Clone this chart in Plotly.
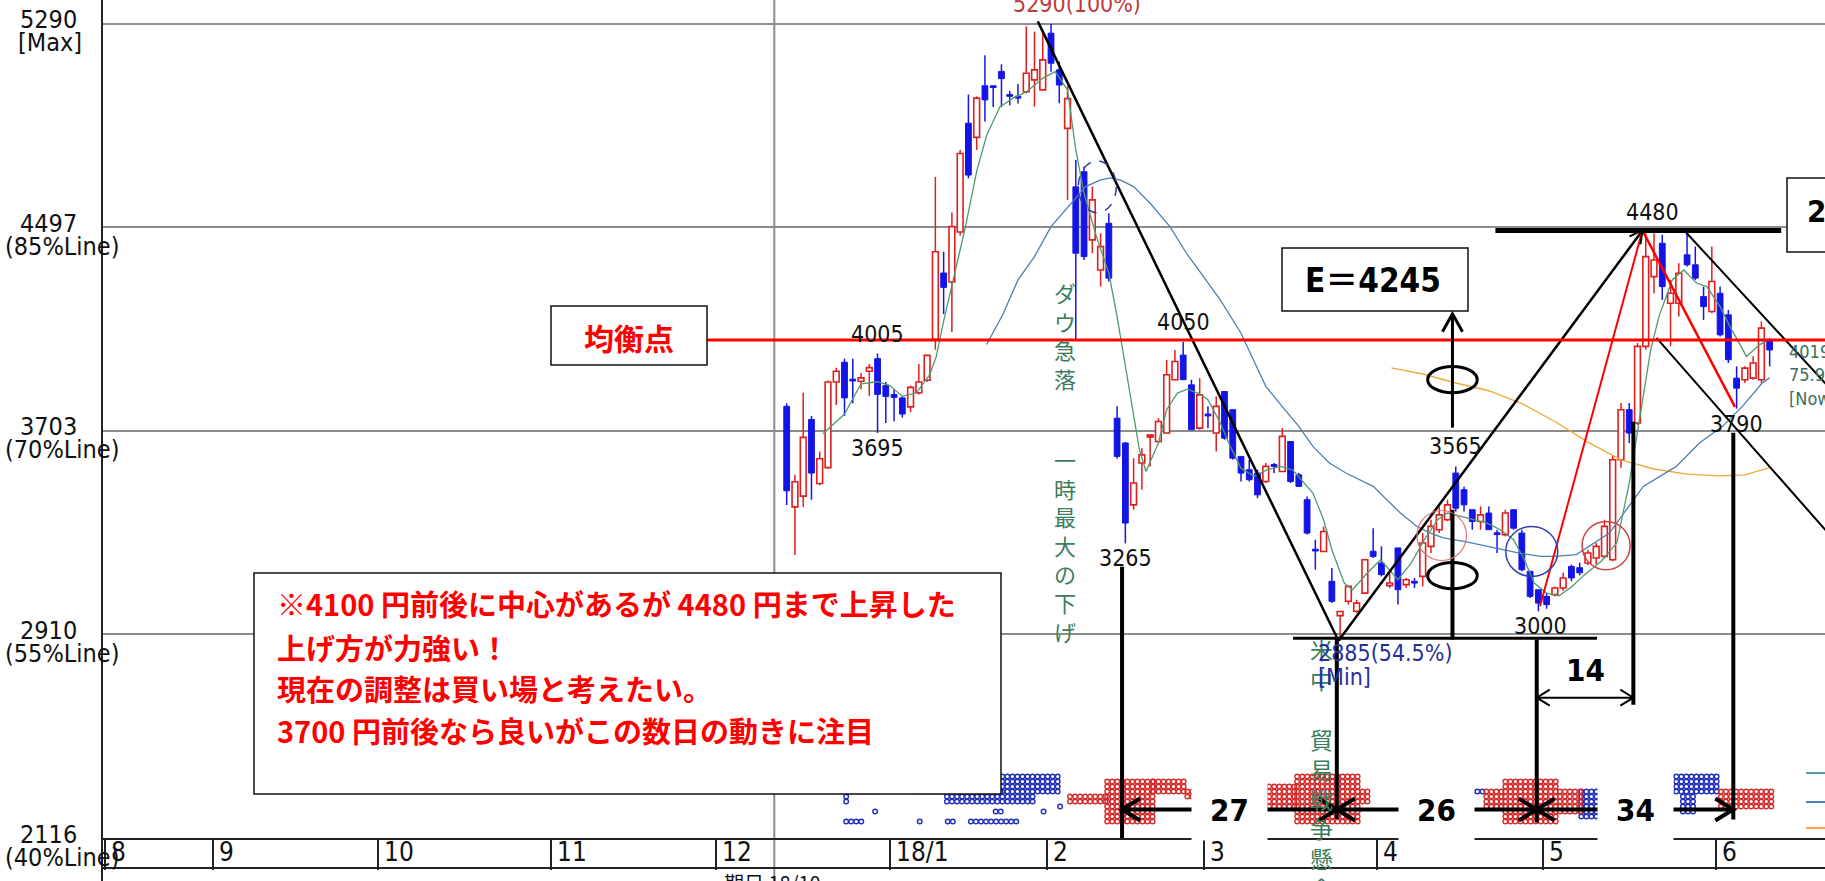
import numpy as np
import plotly.graph_objects as go

# ---------------- data ----------------
opens = [3799,3407,3449,3748,3498,3560,3894,3971,3905,3897,
         3936,3985,3880,3845,3832,3797,3852,3901,4061,4319,
         4284,4479,4903,4848,5049,5049,5105,5015,5008,5026,
         5072,5033,5254,5111,4883,4655,4714,4448,4331,4513,
         3753,3656,3415,3578,3680,3662,3695,3903,3999,3883,
         3714,3769,3695,3857,3786,3604,3552,3539,3506,3571,
         3545,3662,3532,3435,3240,3233,3117,2983,3039,3000,
         3071,3234,3188,3100,3247,3104,3117,3136,3253,3318,
         3357,3539,3474,3396,3350,3383,3305,3299,3396,3305,
         3156,3084,3058,3065,3091,3175,3170,3188,3208,3214,
         3201,3591,3786,3734,4033,4305,4435,4201,4201,4390,
         4351,4227,4169,4240,4156,3909,3903,3909,3903,4052]
highs = [3811,3532,3852,3762,3623,3900,3950,3985,3985,3929,
         3964,4005,3894,3866,3838,3880,3964,4000,4694,4402,
         4555,4799,5015,5008,5168,5049,5133,5029,5056,5280,
         5260,5267,5290,5143,5046,4760,4734,4656,4474,4552,
         3799,3660,3597,3636,3688,3753,3980,4019,4050,3903,
         3909,3799,3838,3857,3786,3604,3591,3552,3578,3578,
         3714,3662,3539,3448,3279,3331,3169,2999,3097,3045,
         3201,3324,3253,3149,3247,3130,3130,3305,3357,3409,
         3435,3565,3487,3396,3409,3409,3318,3396,3396,3318,
         3156,3084,3071,3097,3150,3182,3190,3240,3266,3357,
         3610,3812,3812,4046,4480,4474,4468,4292,4357,4474,
         4422,4266,4422,4266,4175,3955,3955,3994,4130,4065]
lows = [3414,3219,3407,3435,3491,3556,3804,3762,3811,3866,
        3839,3695,3734,3741,3755,3776,3845,3894,4020,4159,
        4089,4465,4688,4799,4910,4966,4966,4973,4980,5020,
        4968,5033,5104,4981,4604,4058,4370,4396,4266,4286,
        3595,3265,3396,3474,3565,3656,3695,3903,3903,3708,
        3708,3714,3623,3669,3591,3506,3506,3441,3500,3539,
        3545,3500,3487,3299,3162,3233,3032,2885,3026,2993,
        3071,3208,3136,3091,3026,3091,3091,3097,3227,3305,
        3351,3389,3389,3318,3318,3318,3227,3292,3318,3156,
        3052,3000,3010,3058,3080,3117,3140,3180,3182,3205,
        3195,3560,3656,3727,4020,4240,4214,4033,4149,4344,
        4292,4136,4162,4071,3968,3790,3890,3903,3890,3955]
closes = [3470,3505,3678,3539,3595,3894,3936,3832,3898,3910,
          3950,3846,3838,3834,3769,3873,3894,3998,4402,4263,
          4500,4785,4701,5001,4994,5042,5077,5008,5001,5098,
          5111,5150,5137,5052,4999,4396,4383,4604,4422,4299,
          3604,3344,3500,3610,3685,3740,3922,3974,3903,3708,
          3844,3762,3799,3675,3597,3539,3513,3454,3565,3565,
          3682,3506,3487,3305,3235,3311,3039,2999,3097,3032,
          3201,3214,3143,3110,3084,3123,3110,3266,3331,3376,
          3415,3402,3415,3350,3376,3318,3299,3383,3324,3162,
          3058,3032,3026,3091,3130,3130,3150,3227,3253,3331,
          3591,3786,3695,4033,4383,4370,4266,4240,4318,4351,
          4299,4188,4286,4078,3981,3870,3948,3968,4104,4019]

# short / mid / long moving-average lines (x = trading-day index)
ma_s_x = [4.4,7,9,11,12.5,14,15.7,17.3,18.1,19,20.4,21.6,23,24.2,25.8,27.4,29,31,32.5,34,35,36,
          37.5,39,40,41.7,42.7,43.5,45,46,47.3,48.5,49.8,51,52.5,53.7,55,56.6,58.2,59.8,61.3,63.7,
          65,66,67.5,68.5,70.3,71.9,74,75.6,77.2,78.8,80,81.6,83.2,84.8,86.4,88,89.3,90.5,92,93.5,
          95,96.5,98.6,100.5,102,103.4,104.6,105.6,107.2,108.6,110.2,111.4,113,114.2,116.2,117.8,119]
ma_s_y = [3692,3769,3887,3895,3880,3838,3852,3922,3992,4131,4326,4493,4715,4855,4966,5001,5025,5078,5104,5033,4799,4630,
          4461,4318,4149,3824,3630,3545,3656,3786,3851,3866,3851,3825,3734,3643,3558,3526,3552,3565,3550,3461,
          3357,3240,3110,3084,3149,3201,3123,3188,3279,3357,3383,3370,3357,3344,3318,3279,3201,3110,3071,3060,
          3095,3140,3195,3266,3500,3773,4020,4149,4292,4331,4279,4266,4188,4110,3994,4040,4060]
ma_m_x = [24.2,26.2,28,30,32,34.5,36.2,38,39.2,40.5,42,44,46.4,48.4,50.4,52.5,55,58,60.3,62,63.7,65.7,
          67.7,71,74.3,76.3,77.9,79.5,82,85,88.7,91.3,93,95.6,99.6,103.7,107.7,110.5,113.3,115.7,118.1,119]
ma_m_y = [4040,4159,4292,4383,4500,4591,4656,4682,4690,4680,4656,4591,4500,4396,4305,4214,4084,3877,3786,3721,3643,3578,
          3539,3487,3383,3331,3305,3286,3273,3253,3227,3214,3214,3221,3305,3487,3565,3656,3721,3799,3890,3910]
ma_l_x = [73.2,77,81,85,89,93,97,101,105,109,113,116,119]
ma_l_y = [3949,3925,3890,3860,3810,3740,3660,3590,3555,3535,3528,3532,3560]

month_pos = [-82.5, -69.5, -49.5, -28.5, -8.5, 12.5, 31.5, 50.5, 71.5, 91.5, 112.5]
month_labels = ["8", "9", "10", "11", "12", "18/1", "2", "3", "4", "5", "6"]

level_vals = [5290, 4497, 3703, 2910, 2116]
level_top = ["5290", "4497", "3703", "2910", "2116"]
level_sub = ["[Max]", "(85%Line)", "(70%Line)", "(55%Line)", "(40%Line)"]

eq_price = 4058          # 均衡点 line
e_target = 4245

pk_x = [11, 11, 48, 41, 81, 91.3, 104.8, 115]
pk_y = [4005, 3695, 4050, 3265, 3565, 3000, 4480, 3790]
pk_above = [True, False, True, False, True, False, True, False]

# measuring lines (index, top price, bottom price)
meas_x = [40.6, 66.6, 90.8, 102.5, 114.6]
meas_top = [3174, 2897, 2890, 3739, 3696]
meas_bot = [2100, 2190, 2176, 2636, 2188]
span_from = [0, 1, 2]
span_to = [1, 2, 4]
span_text = ["27", "26", "34"]
span_price = 2227
short_text = "14"
short_price = 2663

# trend lines: x0, y0, x1, y1, colour, width
trend = [
    (30.4, 5300, 66.8, 2885, "black", 2.5),
    (66.8, 2885, 103.6, 4485, "black", 2.5),
    (91.2, 3020, 103.6, 4485, "red", 2),
    (103.6, 4485, 114.8, 3797, "red", 2.5),
    (108.8, 4480, 130.0, 3740, "black", 2),
    (105.3, 4066, 130.0, 3161, "black", 2),
    (85.8, 4485, 120.4, 4485, "black", 5),
    (61.3, 2895, 98.1, 2895, "black", 3),
]

# bottom dot indicator blocks: i0, i1, row0, row1, colour
dot_blocks = [
    (7.2, 10.9, 9, 9, "b"), (7.2, 7.8, 7, 9, "b"), (7.2, 9.6, 3, 3, "b"), (10.7, 10.7, 5, 5, "b"),
    (16.1, 26.1, 9, 9, "b"), (26.1, 32.9, 9, 12, "b"), (19.4, 30.3, 7, 8, "b"), (16.1, 16.1, 3, 3, "b"),
    (19.5, 20.5, 3, 3, "b"), (22.3, 27.9, 3, 3, "b"), (25.3, 26.0, 5, 5, "b"), (31.1, 31.1, 5, 5, "b"),
    (33.1, 33.1, 6, 6, "b"), (82.4, 84.3, 9, 9, "b"), (96.2, 99.0, 4, 9, "b"), (107.7, 113.1, 9, 12, "b"),
    (108.5, 110.0, 5, 8, "b"),
    (34.3, 38.8, 7, 8, "r"), (38.8, 44.4, 3, 11, "r"), (44.4, 48.5, 9, 11, "r"), (48.5, 57.7, 8, 9, "r"),
    (57.8, 61.8, 6, 10, "r"), (61.8, 69.7, 3, 12, "r"), (69.7, 70.5, 7, 9, "r"), (84.7, 87.0, 6, 9, "r"),
    (87.0, 93.6, 3, 11, "r"), (93.6, 96.5, 5, 9, "r"), (113.1, 119.5, 6, 9, "r"),
]

# ---------------- geometry ----------------
W, H = 1825, 881
ML, MB = 102, 43
PW, PH = W - ML, H - MB
XR = [-82.89, 125.70]
YR = [2116, 5383.5]

def xp(px):
    return (px - ML) / PW

def yp(py):
    return (PH - py) / PH

def i2p(i):
    return (i - XR[0]) / (XR[1] - XR[0])

RED = "#e01e1e"
BLUE = "#1414e6"
GREEN_T = "#3a7d5c"
NARROW = "Liberation Sans Narrow, DejaVu Sans Condensed, Arial Narrow, sans-serif"
CJK = "Noto Sans CJK JP, sans-serif"

fig = go.Figure()

# ---- wicks ----
idx = list(range(len(opens)))
wx = {"u": [], "d": []}
wy = {"u": [], "d": []}
for i, o, h, l, c in zip(idx, opens, highs, lows, closes):
    k = "u" if c >= o else "d"
    top, bot = max(o, c), min(o, c)
    wx[k] += [i, i, None, i, i, None]
    wy[k] += [top, h, None, l, bot, None]
fig.add_trace(go.Scatter(x=wx["u"], y=wy["u"], mode="lines", line=dict(color=RED, width=1.5),
                         hoverinfo="skip", showlegend=False))
fig.add_trace(go.Scatter(x=wx["d"], y=wy["d"], mode="lines", line=dict(color=BLUE, width=1.5),
                         hoverinfo="skip", showlegend=False))

# ---- bodies ----
for k, fill, lc, lw in (("u", "white", RED, 1.6), ("d", BLUE, BLUE, 1.0)):
    bx, bh, bb = [], [], []
    for i, o, c in zip(idx, opens, closes):
        if (c >= o) == (k == "u"):
            bx.append(i)
            bb.append(min(o, c))
            bh.append(max(abs(c - o), 7))
    fig.add_trace(go.Bar(x=bx, y=bh, base=bb, width=0.7,
                         marker=dict(color=fill, line=dict(color=lc, width=lw)),
                         hoverinfo="skip", showlegend=False))

# ---- moving averages ----
fig.add_trace(go.Scatter(x=ma_l_x, y=ma_l_y, mode="lines", line=dict(color="#f2a93b", width=1.4),
                         hoverinfo="skip", showlegend=False))
fig.add_trace(go.Scatter(x=ma_m_x, y=ma_m_y, mode="lines", line=dict(color="#4b80b4", width=1.3),
                         hoverinfo="skip", showlegend=False))
fig.add_trace(go.Scatter(x=ma_s_x, y=ma_s_y, mode="lines", line=dict(color="#4f9a6c", width=1.3),
                         hoverinfo="skip", showlegend=False))

# ---- bottom dots ----
for col, mc in (("b", "#2230b8"), ("r", "#d42c2c")):
    dx, dy = [], []
    for i0, i1, r0, r1, cc in dot_blocks:
        if cc != col:
            continue
        for xx in np.arange(i0, i1 + 0.01, 0.61):
            for rr in range(r0, r1 + 1):
                dx.append(float(xx))
                dy.append(rr + 0.3)
    fig.add_trace(go.Scatter(x=dx, y=dy, yaxis="y2", mode="markers",
                             marker=dict(symbol="circle-open", size=4.6, color=mc, line=dict(width=1.4)),
                             hoverinfo="skip", showlegend=False))

shapes = []
ann = []

# y-axis line and bottom band line, vertical grid line
shapes.append(dict(type="line", xref="paper", yref="paper", x0=0, x1=0, y0=yp(H), y1=1,
                   line=dict(color="#222", width=2)))
shapes.append(dict(type="line", xref="paper", yref="paper", x0=0, x1=1, y0=yp(868), y1=yp(868),
                   line=dict(color="#222", width=2)))
shapes.append(dict(type="line", xref="paper", yref="paper", x0=i2p(-1.5), x1=i2p(-1.5), y0=yp(H), y1=1,
                   line=dict(color="#8c8c8c", width=2), layer="below"))

# trend lines
for x0, y0, x1, y1, c, w in trend:
    shapes.append(dict(type="line", xref="x", yref="y", x0=x0, y0=y0, x1=x1, y1=y1,
                       line=dict(color=c, width=w)))

def chev(x, y, path, w=3):
    return dict(type="path", xref="x", yref="y", xsizemode="pixel", ysizemode="pixel",
                xanchor=x, yanchor=y, path=path, line=dict(color="black", width=w))

# arrowhead at the 4480 peak
shapes.append(chev(103.6, 4485, "M -13,-6 L 0,0 L -2,-14", 2))

# equilibrium line
shapes.append(dict(type="line", xref="paper", yref="y", x0=xp(707), x1=1, y0=eq_price, y1=eq_price,
                   line=dict(color="#ff0000", width=3)))

# measuring lines
for mx, t, b in zip(meas_x, meas_top, meas_bot):
    shapes.append(dict(type="line", xref="x", yref="y", x0=mx, x1=mx, y0=b, y1=t,
                       line=dict(color="black", width=4)))
for a, b_, txt in zip(span_from, span_to, span_text):
    xa, xb = meas_x[a], meas_x[b_]
    shapes.append(dict(type="line", xref="x", yref="y", x0=xa, x1=xb, y0=span_price, y1=span_price,
                       line=dict(color="black", width=4)))
    shapes.append(chev(xa, span_price, "M 18,11 L 0,0 L 18,-11", 4))
    shapes.append(chev(xb, span_price, "M -18,11 L 0,0 L -18,-11", 4))
    ann.append(dict(x=(xa + xb) / 2, y=span_price, xref="x", yref="y", text="<b>%s</b>" % txt,
                    showarrow=False, bgcolor="white", width=75, height=60, borderpad=0,
                    xanchor="center", yanchor="middle",
                    font=dict(family=NARROW, size=31, color="black")))
xa, xb = meas_x[2], meas_x[3]
shapes.append(dict(type="line", xref="x", yref="y", x0=xa, x1=xb, y0=short_price, y1=short_price,
                   line=dict(color="black", width=2)))
shapes.append(chev(xa, short_price, "M 13,8 L 0,0 L 13,-8", 2))
shapes.append(chev(xb, short_price, "M -13,8 L 0,0 L -13,-8", 2))
ann.append(dict(x=(xa + xb) / 2, y=short_price, xref="x", yref="y", text="<b>%s</b>" % short_text,
                showarrow=False, yshift=28, xanchor="center", yanchor="middle",
                font=dict(family=NARROW, size=31, color="black")))

# E arrow (from the 3565 high up to the E box) and the lower stem
shapes.append(dict(type="line", xref="x", yref="y", x0=80.6, x1=80.6, y0=3716, y1=4160,
                   line=dict(color="black", width=3)))
shapes.append(chev(80.6, 4160, "M -10,-18 L 0,0 L 10,-18", 3))
shapes.append(dict(type="line", xref="x", yref="y", x0=80.6, x1=80.6, y0=2890, y1=3396,
                   line=dict(color="black", width=4)))

# ellipses / circles
shapes.append(dict(type="circle", xref="x", yref="y", x0=77.6, x1=83.6, y0=3852, y1=3954,
                   line=dict(color="black", width=3)))
shapes.append(dict(type="circle", xref="x", yref="y", x0=77.6, x1=83.6, y0=3088, y1=3190,
                   line=dict(color="black", width=3)))
shapes.append(dict(type="circle", xref="x", yref="y", x0=35.3, x1=39.9, y0=4554, y1=4756,
                   line=dict(color="#3040a0", width=1.5, dash="dash")))
shapes.append(dict(type="circle", xref="x", yref="y", x0=76.3, x1=82.3, y0=3198, y1=3393,
                   line=dict(color="#e07070", width=1.2)))
shapes.append(dict(type="circle", xref="x", yref="y", x0=87.05, x1=93.35, y0=3136, y1=3331,
                   line=dict(color="#3040b0", width=1.5)))
shapes.append(dict(type="circle", xref="x", yref="y", x0=96.3, x1=102.1, y0=3162, y1=3350,
                   line=dict(color="#d04040", width=1.5)))

# boxes
def box(x0, y0, x1, y1):
    return dict(type="rect", xref="paper", yref="paper", x0=xp(x0), x1=xp(x1), y0=yp(y1), y1=yp(y0),
                fillcolor="white", line=dict(color="#111", width=1.5))
shapes.append(box(551, 306, 707, 365))
shapes.append(box(1282, 248, 1468, 311))
shapes.append(box(254, 573, 1001, 794))
shapes.append(box(1787, 178, 1845, 252))

# legend stubs at right edge
for yy, cc in ((773, "#5a9fa8"), (802, "#4b80b4"), (828, "#f2a93b")):
    shapes.append(dict(type="line", xref="paper", yref="paper", x0=xp(1806), x1=xp(1830),
                       y0=yp(yy), y1=yp(yy), line=dict(color=cc, width=2)))

# ---------------- annotations ----------------
# y-level labels
for v, t, s in zip(level_vals, level_top, level_sub):
    ann.append(dict(x=xp(48.5), xref="paper", y=v, yref="y", text=t, showarrow=False,
                    xanchor="center", yanchor="middle", yshift=4,
                    font=dict(family=NARROW, size=25, color="#111")))
    ann.append(dict(x=xp(50 if s == "[Max]" else 62), xref="paper", y=v, yref="y", text=s,
                    showarrow=False, xanchor="center", yanchor="middle", yshift=-19,
                    font=dict(family=NARROW, size=25, color="#111")))

# month labels
for m, t in zip(month_pos, month_labels):
    ann.append(dict(x=m, xref="x", y=yp(852), yref="paper", text=t, showarrow=False,
                    xanchor="left", yanchor="middle", xshift=4,
                    font=dict(family=NARROW, size=26, color="#111")))
ann.append(dict(x=xp(722), xref="paper", y=yp(866), yref="paper", text="期日 18/10", showarrow=False,
                xanchor="left", yanchor="top", font=dict(family=CJK, size=20, color="#111")))

# green vertical texts
def vtext(s):
    return "<br>".join(list(s))
ann.append(dict(x=33.7, y=4078, xref="x", yref="y", text=vtext("ダウ急落"), showarrow=False,
                xanchor="center", yanchor="middle", font=dict(family=CJK, size=22, color=GREEN_T)))
ann.append(dict(x=33.7, y=3260, xref="x", yref="y", text=vtext("一時最大の下げ"), showarrow=False,
                xanchor="center", yanchor="middle", font=dict(family=CJK, size=22, color=GREEN_T)))
ann.append(dict(x=64.8, y=2928, xref="x", yref="y", text=vtext("米中　貿易戦争懸念"), showarrow=False,
                xanchor="center", yanchor="top", font=dict(family=CJK, size=23, color=GREEN_T)))

# peak / trough labels
for x, y, up in zip(pk_x, pk_y, pk_above):
    ann.append(dict(x=x, y=y, xref="x", yref="y", text=str(y), showarrow=False, xanchor="center",
                    yanchor="bottom" if up else "top", yshift=5 if up else 0,
                    font=dict(family=NARROW, size=23, color="#111")))
ann.append(dict(x=35.1, y=5290, xref="x", yref="y", text="5290(100%)", showarrow=False,
                xanchor="center", yanchor="bottom", yshift=5,
                font=dict(family=NARROW, size=23, color="#c03a3a")))
ann.append(dict(x=64.1, y=2885, xref="x", yref="y", text="2885(54.5%)", showarrow=False,
                xanchor="left", yanchor="top", yshift=3, font=dict(family=NARROW, size=23, color="#26309a")))
ann.append(dict(x=64.1, y=2885, xref="x", yref="y", text="[Min]", showarrow=False,
                xanchor="left", yanchor="top", yshift=-21, font=dict(family=NARROW, size=23, color="#26309a")))
ann.append(dict(x=xp(1787), xref="paper", y=yp(375), yref="paper", text="4019<br>75.9%<br>[Now]",
                showarrow=False, xanchor="left", yanchor="middle", align="left",
                font=dict(family=NARROW, size=18, color="#3d7060")))

# box texts
ann.append(dict(x=xp(629), xref="paper", y=yp(337), yref="paper", text="<b>均衡点</b>", showarrow=False,
                xanchor="center", yanchor="middle", font=dict(family=CJK, size=30, color="#ff0000")))
ann.append(dict(x=xp(1303), xref="paper", y=yp(280), yref="paper", text="<b>E＝%d</b>" % e_target,
                showarrow=False, xanchor="left", yanchor="middle",
                font=dict(family=NARROW + ", " + CJK, size=33, color="black")))
ann.append(dict(x=xp(1805), xref="paper", y=yp(211), yref="paper", text="<b>2</b>", showarrow=False,
                xanchor="left", yanchor="middle", font=dict(family=NARROW, size=31, color="black")))
note_lines = ["※4100 円前後に中心があるが 4480 円まで上昇した",
              "上げ方が力強い！",
              "現在の調整は買い場と考えたい。",
              "3700 円前後なら良いがこの数日の動きに注目"]
for t, yy in zip(note_lines, [603, 647, 688, 730]):
    ann.append(dict(x=xp(275), xref="paper", y=yp(yy), yref="paper", text="<b>%s</b>" % t,
                    showarrow=False, xanchor="left", yanchor="middle",
                    font=dict(family=CJK, size=29, color="#ff0000")))

fig.update_layout(
    width=W, height=H, margin=dict(l=ML, r=0, t=0, b=MB),
    paper_bgcolor="white", plot_bgcolor="white",
    barmode="overlay", showlegend=False,
    xaxis=dict(range=XR, showgrid=False, zeroline=False, showticklabels=False,
               tickvals=month_pos, ticks="outside", ticklen=30, tickwidth=2, tickcolor="#222",
               showline=True, linecolor="#222", linewidth=2),
    yaxis=dict(range=YR, tickvals=level_vals, showticklabels=False, showgrid=True,
               gridcolor="#8c8c8c", gridwidth=2, zeroline=False, ticks=""),
    yaxis2=dict(range=[0, PH / 5.0], overlaying="y", visible=False),
    shapes=shapes, annotations=ann,
)

fig.write_html("out.html", config={"displayModeBar": False},
               post_script="document.body.style.margin='0';document.body.style.overflow='hidden';")
